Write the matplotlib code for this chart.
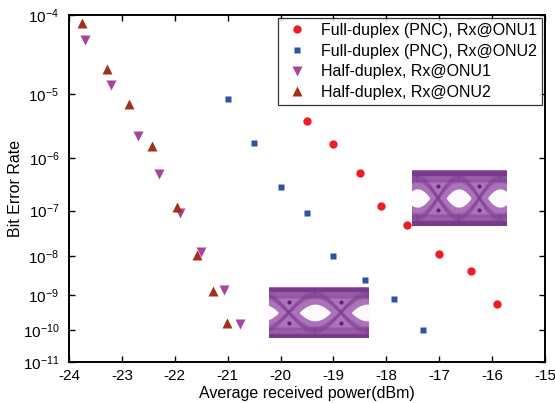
import numpy as np
import matplotlib
matplotlib.use('Agg')
import matplotlib.pyplot as plt
from matplotlib.ticker import FixedLocator, NullLocator

plt.rcParams['font.family'] = ['Liberation Sans', 'DejaVu Sans']
plt.rcParams['mathtext.fontset'] = 'custom'
plt.rcParams['mathtext.rm'] = 'Liberation Sans'
plt.rcParams['mathtext.default'] = 'regular'
plt.rcParams['axes.unicode_minus'] = False

# data
fd1_x = [-19.5, -19.0, -18.5, -18.1, -17.6, -17.0, -16.4, -15.9]
fd1_ber = [4.0e-6, 1.72e-6, 5.3e-7, 1.24e-7, 4.9e-8, 1.12e-8, 4.2e-9, 5.9e-10]

fd2_x = [-21.0, -20.5, -20.0, -19.5, -19.0, -18.4, -17.85, -17.3]
fd2_ber = [8.5e-6, 1.76e-6, 2.93e-7, 8.9e-8, 9.7e-9, 2.47e-9, 7.9e-10, 1.0e-10]

hd1_x = [-23.7, -23.2, -22.7, -22.3, -21.9, -21.5, -21.06, -20.77]
hd1_ber = [5.15e-5, 1.35e-5, 2.33e-6, 5.1e-7, 9.0e-8, 1.2e-8, 1.38e-9, 1.55e-10]

hd2_x = [-23.75, -23.28, -22.87, -22.44, -21.96, -21.58, -21.28, -21.02]
hd2_ber = [8.2e-5, 2.22e-5, 7.3e-6, 1.61e-6, 1.16e-7, 1.04e-8, 1.32e-9, 1.69e-10]

labels = ['Full-duplex (PNC), Rx@ONU1', 'Full-duplex (PNC), Rx@ONU2',
          'Half-duplex, Rx@ONU1', 'Half-duplex, Rx@ONU2']
x_ticks = list(range(-24, -14))
y_exp = [4, 5, 6, 7, 8, 9, 10, 11]


# BER axis: -log10(-log10(BER) - 0.5)
def fwd(y):
    with np.errstate(all='ignore'):
        return -np.log10(-np.log10(y) - 0.5)


def inv(z):
    return 10.0 ** (-(10.0 ** (-z) + 0.5))


fig = plt.figure(figsize=(5.55, 4.03), dpi=100)
ax = fig.add_axes([69/555, 1 - 362/403, 476/555, 347/403])
ax.set_yscale('function', functions=(fwd, inv))

ax.plot(fd1_x, fd1_ber, 'o', color='#ee1c24', ms=6, mec='none', label=labels[0])
ax.plot(fd2_x, fd2_ber, 's', color='#2f52a6', ms=5, mec='none', label=labels[1])
ax.plot(hd1_x, hd1_ber, 'v', color='#a8439f', ms=7, mec='none', label=labels[2])
ax.plot(hd2_x, hd2_ber, '^', color='#a3301c', ms=7, mec='none', label=labels[3])

ax.set_xlim(-24, -15)
ax.set_ylim(1e-11, 1e-4)
ax.set_xticks(x_ticks)
ax.set_xticklabels([str(v) for v in x_ticks])
ax.yaxis.set_major_locator(FixedLocator([10.0 ** -e for e in y_exp]))
ax.yaxis.set_minor_locator(NullLocator())
ax.set_yticklabels([r'$10^{-%d}$' % e for e in y_exp])
ax.tick_params(direction='in', top=True, right=True, length=4, width=1,
               labelsize=11)
ax.tick_params(axis='x', pad=5)
ax.tick_params(axis='y', pad=7)
for sp in ax.spines.values():
    sp.set_linewidth(1.4)
ax.set_xlabel('Average received power(dBm)', fontsize=11.5, labelpad=2)
ax.set_ylabel('Bit Error Rate', fontsize=11.5, labelpad=0)

leg = ax.legend(loc='upper right', fontsize=11.5, frameon=True, fancybox=False,
                borderaxespad=0.2, handletextpad=0.6, borderpad=0.3,
                labelspacing=0.35, handlelength=1.8)
leg.get_frame().set_edgecolor('black')
leg.get_frame().set_linewidth(0.9)


# eye diagram insets
def eye(rect, x0, x1):
    a = fig.add_axes(rect)
    a.set_facecolor('#ab74ba')
    t = np.linspace(x0 - 1, x1 + 1, 400)
    for k in range(int(np.floor(x0)) - 1, int(np.ceil(x1)) + 1):
        u = np.linspace(k + 0.2, k + 0.8, 100)
        s = np.sin(np.pi * (u - k - 0.2) / 0.6) ** 0.85
        a.fill_between(u, 0.5 - 0.17 * s, 0.5 + 0.17 * s, color='#fdf9fd', lw=0)
        tt = np.linspace(k - 0.5, k + 0.5, 100)
        for d in np.linspace(-0.05, 0.05, 4):
            a.plot(tt, 0.5 + (0.36 + d) * np.cos(np.pi * (tt - k + 0.5)),
                   color='#7d3b90', lw=2.0, alpha=0.3)
            a.plot(tt, 0.5 - (0.36 + d) * np.cos(np.pi * (tt - k + 0.5)),
                   color='#7d3b90', lw=2.0, alpha=0.3)
        a.plot([k, k], [0.72, 0.28], 'o', color='#5e2472', ms=3, mec='none')
    for lvl in [0.86, 0.14]:
        for d in np.linspace(-0.05, 0.05, 4):
            a.plot(t, np.full_like(t, lvl + d), color='#7d3b90', lw=2.0, alpha=0.3)
    a.axhspan(0.93, 1.0, color='#7a3a8c')
    a.axhspan(0.0, 0.07, color='#7a3a8c')
    a.set_xlim(x0, x1)
    a.set_ylim(-0.02, 1.02)
    a.set_xticks([])
    a.set_yticks([])
    for sp in a.spines.values():
        sp.set_visible(False)
    a.set_facecolor('#ab74ba')


eye([412/555, 1 - 226/403, 95/555, 56/403], -0.63, 1.67)
eye([269/555, 1 - 338/403, 100/555, 51/403], -0.38, 1.54)

fig.savefig('out.png', dpi=100)
